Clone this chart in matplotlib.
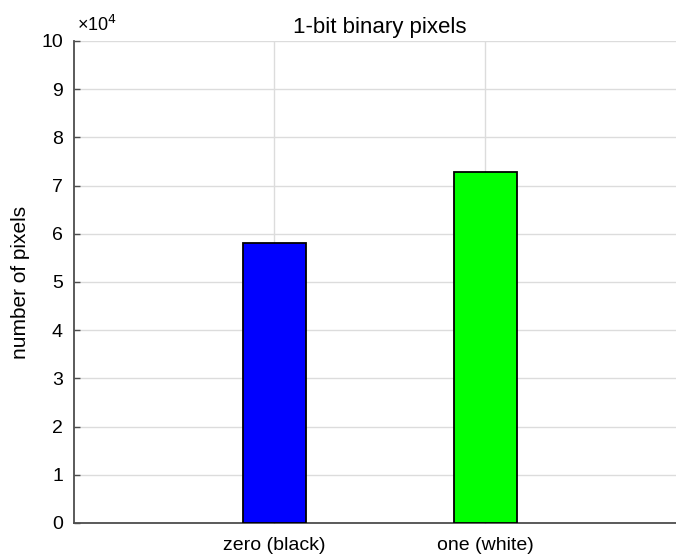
import matplotlib
matplotlib.use("Agg")
import matplotlib.pyplot as plt

plt.rcParams['font.family'] = ['Liberation Sans', 'DejaVu Sans']

categories = ["zero (black)", "one (white)"]
counts = [58000, 72800]
bar_colors = ["#0000ff", "#00ff00"]
y_ticks = list(range(0, 11))

fig = plt.figure(figsize=(6.76, 5.55), dpi=100)
ax = fig.add_axes([0.1095, 0.0577, 0.905, 0.8685])

xpos = [1, 2]
ax.bar(xpos, counts, width=0.3, color=bar_colors, edgecolor="black",
       linewidth=1.3, zorder=3)

ax.set_xlim(0.05, 2.95)
ax.set_ylim(0, 100000)
ax.set_yticks([t * 1e4 for t in y_ticks])
ax.set_yticklabels([str(t) for t in y_ticks], fontsize=14)
ax.set_xticks(xpos)
ax.set_xticklabels(categories, fontsize=14)

ax.grid(True, color="#dcdcdc", linewidth=1.0, zorder=0)
ax.set_axisbelow(True)

for s in ("top", "right"):
    ax.spines[s].set_visible(False)
for s in ("left", "bottom"):
    ax.spines[s].set_color("#4d4d4d")
    ax.spines[s].set_linewidth(1.3)

ax.tick_params(axis="both", direction="in", length=4, width=1.0,
               color="#4d4d4d", labelcolor="black")
ax.tick_params(axis="y", pad=8)
ax.tick_params(axis="x", pad=10)

ax.set_ylabel("number of pixels", fontsize=15, labelpad=8)
ax.set_title("1-bit binary pixels", fontsize=16, pad=6)

ax.text(0.005, 1.012, "×10$^{4}$", transform=ax.transAxes, fontsize=13,
        ha="left", va="bottom")

fig.savefig("out.png", dpi=100)
